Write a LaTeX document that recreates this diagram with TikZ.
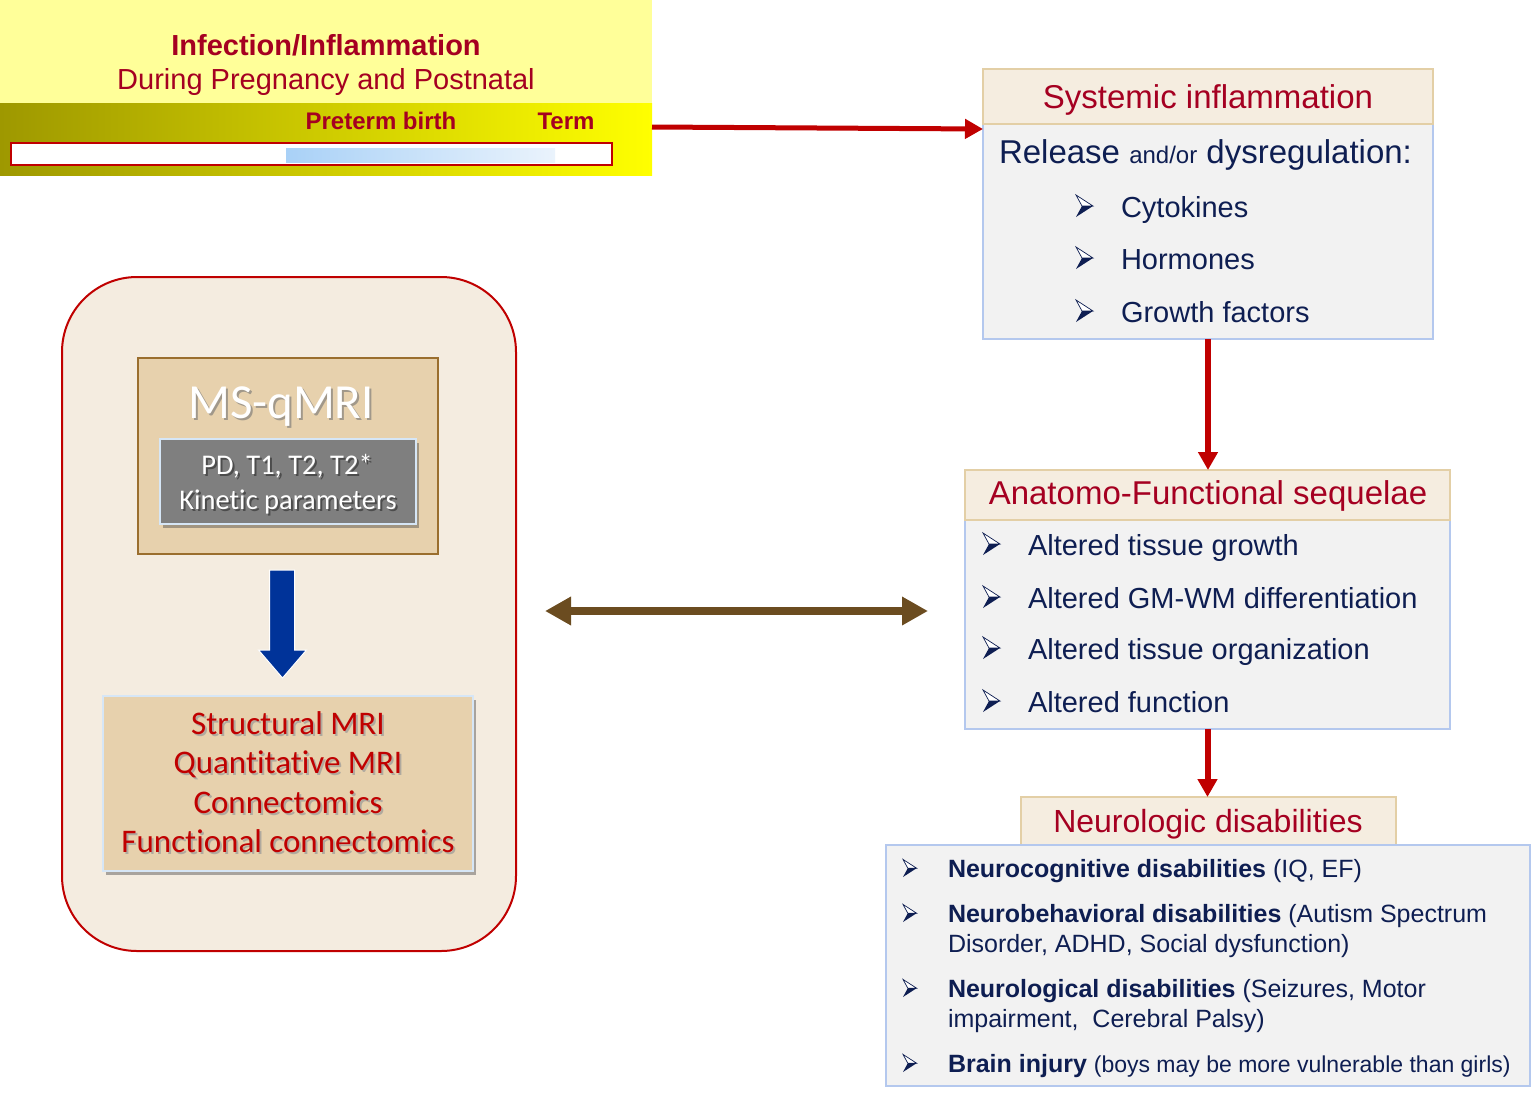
\documentclass[tikz,border=0pt]{standalone}
\usepackage{fontspec}
\setmainfont{Liberation Sans}
\newfontfamily\calfont[RawFeature={-liga;-clig;-dlig;-calt}]{Carlito}
\usetikzlibrary{arrows.meta,shadows,calc}
\definecolor{dred}{HTML}{A50021}
\definecolor{navy}{HTML}{0E1E52}
\definecolor{hfill}{HTML}{F5EDE0}
\definecolor{hline}{HTML}{E3CFA6}
\definecolor{bfill}{HTML}{F2F2F2}
\definecolor{bline}{HTML}{B4C8EE}
\definecolor{lfill}{HTML}{F4ECE0}
\definecolor{rline}{HTML}{C00000}
\definecolor{msfill}{HTML}{E7D1AD}
\definecolor{msline}{HTML}{9A6E2E}
\definecolor{grayb}{HTML}{7F7F7F}
\definecolor{paleb}{HTML}{D6E6F6}
\definecolor{bluear}{HTML}{003399}
\definecolor{brownar}{HTML}{6B4C20}
\definecolor{ltyel}{HTML}{FFFF99}
\definecolor{olive1}{HTML}{9E9800}
\definecolor{olive2}{HTML}{D8D300}
\definecolor{skyl}{HTML}{A9D1F7}
\definecolor{skyr}{HTML}{EAF3FC}
\begin{document}
\begin{tikzpicture}[x=1pt,y=-1pt,
  box/.style={inner sep=0pt, outer sep=0pt, anchor=north west},
  hdr/.style={box, fill=hfill, draw=hline, line width=2pt},
  bodybox/.style={box, fill=bfill, draw=bline, line width=2pt},
  txt/.style={inner sep=0pt, outer sep=0pt, anchor=base west, text=navy},
  ctxt/.style={inner sep=0pt, outer sep=0pt, anchor=base},
  bulletpic/.pic={
    \draw[navy, line width=0.7pt, fill=white, line join=miter] (0,-22) -- (17,-11) -- (6,-11) -- cycle;
    \fill[navy] (6,-11) -- (17,-11) -- (0,0) -- cycle;
  },
  redarr/.style={draw=rline, line width=#1, -{Triangle[length=18pt,width=19pt]}},
  shad/.style={drop shadow={shadow xshift=3pt, shadow yshift=-4pt, opacity=0.45, fill=black!70}}
]
\useasboundingbox (0,0) rectangle (1532,1093);

% ---------- top timeline box ----------
\node[box, fill=ltyel, minimum width=652, minimum height=103] (topbox) at (0,0) {};
\node[box, left color=olive1, middle color=olive2, right color=yellow, minimum width=652, minimum height=72] (band) at (0,103) {};
\node[box, fill=white, draw=rline, line width=2pt, minimum width=601, minimum height=22] (bar) at (11,143) {};
\node[box, left color=skyl, right color=skyr, minimum width=269, minimum height=14] (pre) at (286,148) {};
\node[ctxt, text=dred, font=\bfseries\fontsize{29}{34}\selectfont] (inf) at (326,55) {Infection/Inflammation};
\node[ctxt, text=dred, font=\fontsize{29}{34}\selectfont] (dur) at (326,89) {During Pregnancy and Postnatal};
\node[ctxt, text=dred, font=\bfseries\fontsize{24}{28}\selectfont] (pt) at (381,129) {Preterm birth};
\node[ctxt, text=dred, font=\bfseries\fontsize{24}{28}\selectfont] (term) at (566,129) {Term};

% ---------- systemic inflammation ----------
\node[bodybox, minimum width=450, minimum height=215] (sysb) at (983,124) {};
\node[hdr, minimum width=450, minimum height=55] (sysh) at (983,69) {};
\node[ctxt, text=dred, font=\fontsize{33}{40}\selectfont] (syst) at (1208,108) {Systemic inflammation};
\node[txt, font=\fontsize{33}{40}\selectfont] (rel) at (999,163) {Release {\fontsize{24}{28}\selectfont and/or} dysregulation:};
\pic at (1076,217) {bulletpic};
\node[txt, font=\fontsize{29}{34}\selectfont] (s1) at (1121,217) {Cytokines};
\pic at (1076,269) {bulletpic};
\node[txt, font=\fontsize{29}{34}\selectfont] (s2) at (1121,269) {Hormones};
\pic at (1076,322) {bulletpic};
\node[txt, font=\fontsize{29}{34}\selectfont] (s3) at (1121,322) {Growth factors};

% ---------- anatomo-functional ----------
\node[bodybox, minimum width=485, minimum height=209] (anab) at (965,520) {};
\node[hdr, minimum width=485, minimum height=50] (anah) at (965,470) {};
\node[ctxt, text=dred, font=\fontsize{33}{40}\selectfont] (anat) at (1208,504) {Anatomo-Functional sequelae};
\pic at (983,555) {bulletpic};
\node[txt, font=\fontsize{29}{34}\selectfont] (a1) at (1028,555) {Altered tissue growth};
\pic at (983,608) {bulletpic};
\node[txt, font=\fontsize{29}{34}\selectfont] (a2) at (1028,608) {Altered GM-WM differentiation};
\pic at (983,659) {bulletpic};
\node[txt, font=\fontsize{29}{34}\selectfont] (a3) at (1028,659) {Altered tissue organization};
\pic at (983,712) {bulletpic};
\node[txt, font=\fontsize{29}{34}\selectfont] (a4) at (1028,712) {Altered function};

% ---------- neurologic disabilities ----------
\node[hdr, minimum width=375, minimum height=48] (neuh) at (1021,797) {};
\node[bodybox, minimum width=644, minimum height=241] (neub) at (886,845) {};
\node[ctxt, text=dred, font=\fontsize{32}{38}\selectfont] (neut) at (1208,832) {Neurologic disabilities};
\pic[scale=0.8] at (903,877) {bulletpic};
\node[txt, font=\fontsize{25}{30}\selectfont] (n1) at (948,877) {\textbf{Neurocognitive disabilities} (IQ, EF)};
\pic[scale=0.8] at (903,922) {bulletpic};
\node[txt, font=\fontsize{25}{30}\selectfont] (n2) at (948,922) {\textbf{Neurobehavioral disabilities} (Autism Spectrum};
\node[txt, font=\fontsize{25}{30}\selectfont] (n2b) at (948,952) {Disorder, ADHD, Social dysfunction)};
\pic[scale=0.8] at (903,997) {bulletpic};
\node[txt, font=\fontsize{25}{30}\selectfont] (n3) at (948,997) {\textbf{Neurological disabilities} (Seizures, Motor};
\node[txt, font=\fontsize{25}{30}\selectfont] (n3b) at (948,1027) {impairment,\ \ Cerebral Palsy)};
\pic[scale=0.8] at (903,1072) {bulletpic};
\node[txt, font=\fontsize{25}{30}\selectfont] (n4) at (948,1072) {\textbf{Brain injury} {\fontsize{23}{28}\selectfont(boys may be more vulnerable than girls)}};

% ---------- red connectors ----------
\draw[redarr=5pt] ($(topbox.north east)+(0,127)$) -- ($(sysh.south west)+(0,5)$);
\draw[redarr=6pt] (sysb.south) -- (sysb.south |- anah.north);
\draw[redarr=6pt] (anab.south) -- (anab.south |- neuh.north);

% ---------- left MRI panel ----------
\node[box, fill=lfill, draw=rline, line width=2pt, rounded corners=75pt, minimum width=454, minimum height=674] (lbox) at (62,277) {};
\node[box, fill=msfill, draw=msline, line width=2pt, minimum width=300, minimum height=196] (ms) at (138,358) {};
\node[ctxt, text=black!55, opacity=0.6, font=\calfont\fontsize{49}{56}\selectfont] (msts) at (283,420) {MS-qMRI};
\node[ctxt, text=white, font=\calfont\fontsize{49}{56}\selectfont] (mst) at (281,418) {MS-qMRI};
\node[box, fill=grayb, draw=paleb, line width=2pt, minimum width=256, minimum height=85, shad] (gb) at (160,439) {};
\node[ctxt, text=black!70, font=\calfont\fontsize{28.5}{33}\selectfont] (g1s) at (289,476) {PD, T1, T2, T2*};
\node[ctxt, text=white, font=\calfont\fontsize{28.5}{33}\selectfont] (g1) at (287,474) {PD, T1, T2, T2*};
\node[ctxt, text=black!70, font=\calfont\fontsize{28.5}{33}\selectfont] (g2s) at (290,511) {Kinet\kern0pt ic parameters};
\node[ctxt, text=white, font=\calfont\fontsize{28.5}{33}\selectfont] (g2) at (288,509) {Kinet\kern0pt ic parameters};
\node[box, fill=msfill, draw=paleb, line width=2pt, minimum width=370, minimum height=175, shad] (res) at (103,696) {};
\foreach \t/\yy/\nm in {Structural MRI/734/r1, Quant\kern0pt itat\kern0pt ive MRI/773/r2, Connectomics/813/r3, Functional connectomics/852/r4}{
  \node[ctxt, text=black!40, opacity=0.7, font=\calfont\fontsize{33}{38}\selectfont] (\nm s) at (290,\yy+2) {\t};
  \node[ctxt, text=rline, font=\calfont\fontsize{33}{38}\selectfont] (\nm) at (288,\yy) {\t};
}
% blue block arrow
\fill[bluear, draw=white, line width=1pt] ($(ms.south)+(-18.5,16)$) -- ++(25,0) -- ++(0,80) -- ++(12,0) -- ++(-24,28) -- ++(-24,-28) -- ++(11,0) -- cycle;

% ---------- brown double arrow ----------
\coordinate (bl) at (545,611);
\coordinate (br) at (928,611);
\draw[brownar, line width=8pt, {Triangle[length=26pt,width=27pt]}-{Triangle[length=26pt,width=27pt]}] (bl) -- (br);
\end{tikzpicture}
\end{document}
